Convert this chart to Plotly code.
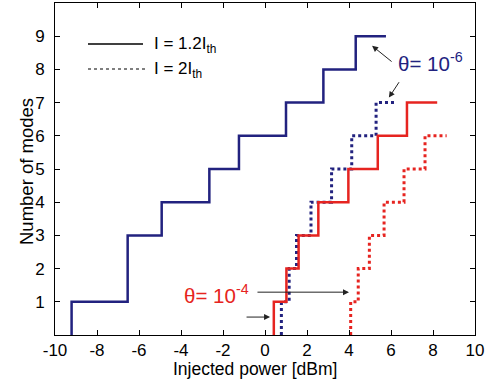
import plotly.graph_objects as go

# ---- data ----
# I = 1.2 Ith, theta = 1e-6 (blue solid)
blue_solid_x = [-9.21, -9.21, -6.54, -4.92, -2.65, -1.24, 1.00, 2.78, 4.32, 5.76]
blue_solid_y = [0, 1, 3, 4, 5, 6, 7, 8, 9, 9]
# I = 2 Ith, theta = 1e-6 (blue dotted)
blue_dot_x = [0.78, 0.78, 1.15, 1.50, 2.19, 3.17, 4.13, 5.29, 6.27]
blue_dot_y = [0, 1, 2, 3, 4, 5, 6, 7, 7]
# I = 1.2 Ith, theta = 1e-4 (red solid)
red_solid_x = [0.42, 0.42, 1.02, 1.60, 2.54, 3.97, 5.37, 6.76, 8.20]
red_solid_y = [0, 1, 2, 3, 4, 5, 6, 7, 7]
# I = 2 Ith, theta = 1e-4 (red dotted)
red_dot_x = [4.08, 4.08, 4.44, 4.97, 5.67, 6.62, 7.62, 8.65]
red_dot_y = [0, 1, 2, 3, 4, 5, 6, 6]

x_ticks = [-10, -8, -6, -4, -2, 0, 2, 4, 6, 8, 10]
y_ticks = [1, 2, 3, 4, 5, 6, 7, 8, 9]

legend_labels = ["I = 1.2I<sub>th</sub>", "I = 2I<sub>th</sub>"]
theta_labels = ["θ= 10<sup>-6</sup>", "θ= 10<sup>-4</sup>"]
x_title = "Injected power [dBm]"
y_title = "Number of modes"

NAVY = "#22227f"
RED = "#e62420"
FONT = "Liberation Sans, Arial, sans-serif"

W, H = 501, 385
L, R, T, B = 55, 26, 3, 50
PW, PH = W - L - R, H - T - B


def px(xp):
    return (xp - L) / PW


def py(yp):
    return 1 - (yp - T) / PH


fig = go.Figure()
fig.add_trace(go.Scatter(x=blue_solid_x, y=blue_solid_y, mode="lines", line_shape="hv",
                         line=dict(color=NAVY, width=2.5), showlegend=False))
fig.add_trace(go.Scatter(x=blue_dot_x, y=blue_dot_y, mode="lines", line_shape="hv",
                         line=dict(color=NAVY, width=3, dash="dot"), showlegend=False))
fig.add_trace(go.Scatter(x=red_solid_x, y=red_solid_y, mode="lines", line_shape="hv",
                         line=dict(color=RED, width=2.5), showlegend=False))
fig.add_trace(go.Scatter(x=red_dot_x, y=red_dot_y, mode="lines", line_shape="hv",
                         line=dict(color=RED, width=3, dash="dot"), showlegend=False))

# legend drawn manually (MATLAB style)
fig.add_shape(type="line", xref="paper", yref="paper", x0=px(88), x1=px(143), y0=py(44), y1=py(44),
              line=dict(color="black", width=1.5))
fig.add_shape(type="line", xref="paper", yref="paper", x0=px(88), x1=px(145), y0=py(69), y1=py(69),
              line=dict(color="black", width=1.2, dash="dot"))
fig.add_annotation(xref="paper", yref="paper", x=px(153), y=py(45), text=legend_labels[0],
                   showarrow=False, xanchor="left", yanchor="middle", borderpad=0,
                   font=dict(family=FONT, size=17, color="black"))
fig.add_annotation(xref="paper", yref="paper", x=px(153), y=py(70), text=legend_labels[1],
                   showarrow=False, xanchor="left", yanchor="middle", borderpad=0,
                   font=dict(family=FONT, size=17, color="black"))

# theta labels
fig.add_annotation(xref="paper", yref="paper", x=px(430), y=py(62), text=theta_labels[0],
                   showarrow=False, xanchor="center", yanchor="middle",
                   font=dict(family=FONT, size=20.5, color=NAVY))
fig.add_annotation(xref="paper", yref="paper", x=px(216), y=py(294), text=theta_labels[1],
                   showarrow=False, xanchor="center", yanchor="middle",
                   font=dict(family=FONT, size=20.5, color=RED))

# axis titles
fig.add_annotation(xref="paper", yref="paper", x=px(255), y=py(369), text=x_title,
                   showarrow=False, xanchor="center", yanchor="middle", borderpad=0,
                   font=dict(family=FONT, size=17.5, color="black"))
fig.add_annotation(xref="paper", yref="paper", x=px(26), y=py(172), text=y_title,
                   showarrow=False, xanchor="center", yanchor="middle", textangle=-90,
                   font=dict(family=FONT, size=18.5, color="black"))

# arrows
arrows = [((6.10, 8.20), (5.10, 8.71)),
          ((6.43, 7.66), (5.90, 7.15)),
          ((-0.43, 1.29), (4.00, 1.29)),
          ((-0.95, 0.54), (0.24, 0.54))]
for (tx, ty), (hx, hy) in arrows:
    fig.add_annotation(x=hx, y=hy, ax=tx, ay=ty, xref="x", yref="y", axref="x", ayref="y",
                       text="", showarrow=True, arrowhead=2, arrowsize=1.2, arrowwidth=1,
                       arrowcolor="#222222", standoff=0, startstandoff=0)

axis_common = dict(showgrid=False, zeroline=False, showline=True, linecolor="black", linewidth=1,
                   mirror="ticks", ticks="inside", ticklen=5, tickcolor="black", automargin=False,
                   tickfont=dict(family=FONT, size=17, color="black"))

fig.update_xaxes(range=[-10, 10], tickvals=x_ticks, ticktext=[str(v) for v in x_ticks],
                 ticklabelstandoff=0, **axis_common)
fig.update_yaxes(range=[0, 10], tickvals=y_ticks, ticktext=[str(v) for v in y_ticks],
                 ticklabelstandoff=6, **axis_common)

fig.update_layout(width=W, height=H, margin=dict(l=L, r=R, t=T, b=B),
                  paper_bgcolor="white", plot_bgcolor="white", showlegend=False)

fig.write_html("out.html", config={"displayModeBar": False},
               post_script="document.body.style.margin='0';")
